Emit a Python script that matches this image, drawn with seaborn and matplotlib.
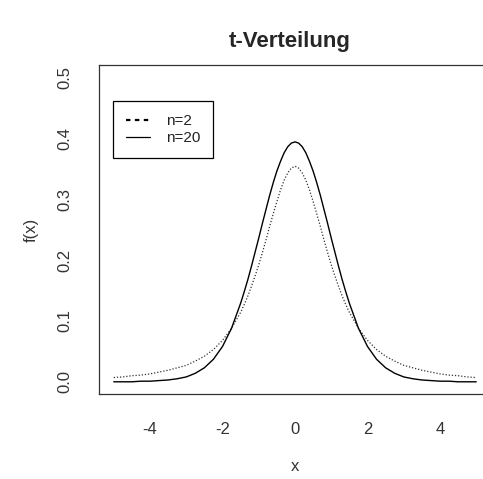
"""
Density curves of the t distribution for n=2 and n=20, R base-graphics look.
"""

import pandas as pd
import matplotlib.pyplot as plt
from matplotlib.lines import Line2D
import seaborn as sns

# right half (x >= 0) of the x grid, both curves are symmetric around 0
x_half = [0.0, 0.1, 0.2, 0.3, 0.4, 0.5, 0.6, 0.7, 0.8, 0.9,
          1.0, 1.1, 1.2, 1.3, 1.4, 1.5, 1.75, 2.0, 2.25, 2.5,
          2.75, 3.0, 3.25, 3.5, 3.75, 4.0, 4.25, 4.5, 4.75, 5.0]

# densities
t2_half = [0.354, 0.351, 0.343, 0.331, 0.315, 0.296, 0.276, 0.255, 0.233, 0.212,
           0.192, 0.174, 0.157, 0.141, 0.127, 0.114, 0.088, 0.068, 0.053, 0.042,
           0.034, 0.027, 0.023, 0.019, 0.016, 0.013, 0.011, 0.010, 0.008, 0.007]
t20_half = [0.394, 0.392, 0.386, 0.376, 0.362, 0.346, 0.327, 0.306, 0.283, 0.260,
            0.236, 0.213, 0.190, 0.168, 0.148, 0.129, 0.088, 0.058, 0.037, 0.023,
            0.014, 0.008, 0.005, 0.003, 0.002, 0.001, 0.001, 0.000, 0.000, 0.000]

x_values = [-v for v in x_half[::-1]] + x_half[1:]
y_t2 = t2_half[::-1] + t2_half[1:]
y_t20 = t20_half[::-1] + t20_half[1:]

labels = ["n=2", "n=20"]
title = "t-Verteilung"


def main():
    sns.set_style("white")
    plt.rcParams["font.family"] = ["Liberation Sans", "DejaVu Sans"]

    df = pd.DataFrame({"x": x_values, "t2": y_t2, "t20": y_t20})

    fig = plt.figure(figsize=(4.83, 4.79), dpi=100)
    ax = fig.add_axes([0.2055, 0.1775, 0.8105, 0.6865])

    sns.lineplot(data=df, x="x", y="t2", ax=ax, color="#333333",
                 linestyle=(0, (1, 1.5)), linewidth=0.9)
    sns.lineplot(data=df, x="x", y="t20", ax=ax, color="black",
                 linewidth=1.0)

    ax.set_xlim(-5.4, 5.4)
    ax.set_ylim(-0.02, 0.52)
    ax.set_xticks([-4, -2, 0, 2, 4])
    ax.set_xticklabels(["-4", "-2", "0", "2", "4"])
    ax.set_yticks([0.0, 0.1, 0.2, 0.3, 0.4, 0.5])
    ax.set_yticklabels(["0.0", "0.1", "0.2", "0.3", "0.4", "0.5"],
                       rotation=90, va="center")
    ax.tick_params(axis="x", pad=13)
    ax.tick_params(axis="y", pad=12)
    ax.tick_params(axis="both", direction="out", length=7, width=0.8,
                   color="#444444", labelsize=12, labelcolor="#333333")

    for spine in ax.spines.values():
        spine.set_color("#333333")
        spine.set_linewidth(0.9)

    ax.set_xlabel("x", fontsize=12, color="#333333", labelpad=16)
    ax.set_ylabel("f(x)", fontsize=12, color="#333333", labelpad=14)
    fig.suptitle(title, x=0.60, y=0.935, fontsize=16, fontweight="bold")

    handles = [Line2D([], [], color="black", linestyle=(0, (2, 2)), linewidth=1.6),
               Line2D([], [], color="black", linewidth=0.9)]
    leg = ax.legend(handles, labels, loc="upper left",
                    bbox_to_anchor=(0.035, 0.891), borderaxespad=0,
                    fancybox=False, framealpha=1, edgecolor="black",
                    fontsize=11, handlelength=1.6, handletextpad=1.0,
                    labelspacing=0.2, borderpad=0.85)
    leg.get_frame().set_linewidth(0.9)
    for text in leg.get_texts():
        text.set_color("#222222")

    fig.savefig("out.png", dpi=100)


if __name__ == "__main__":
    main()
